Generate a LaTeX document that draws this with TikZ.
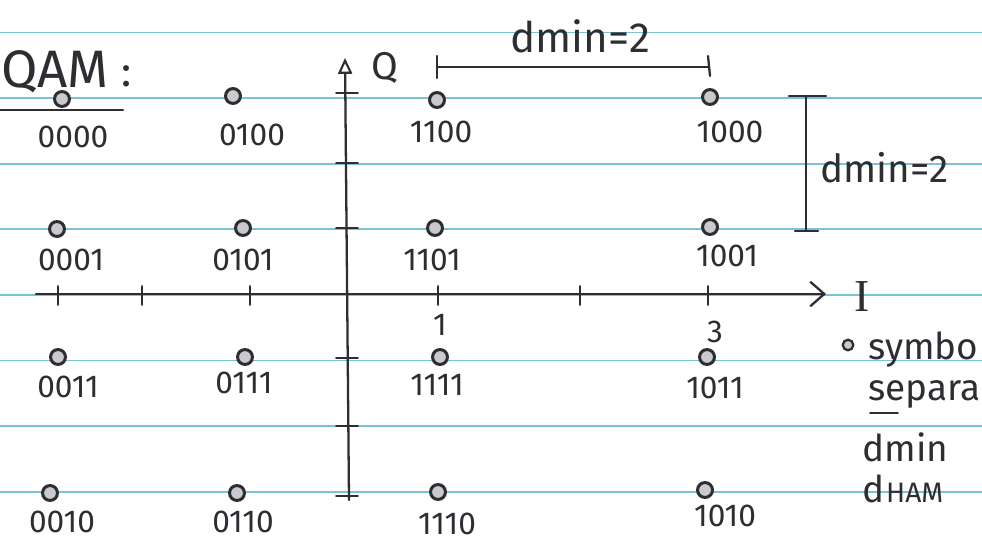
\documentclass[tikz,border=0pt]{standalone}
\usepackage{fontspec}
\setmainfont{Fira Sans}
\newfontfamily\serifI{Liberation Serif}
\usetikzlibrary{arrows.meta}
\definecolor{rule}{RGB}{120,196,214}
\definecolor{ink}{RGB}{45,45,50}
\tikzset{
  ruleline/.style={draw=rule, line width=1.1pt},
  pen/.style={draw=ink, line width=1.3pt, line cap=round},
  dot/.style={circle, draw=ink, line width=1.7pt, fill=ink!25, inner sep=0pt, minimum size=8.5pt},
  bits/.style={text=ink, font=\fontsize{18}{20}\selectfont, inner sep=0pt},
  note/.style={text=ink, font=\fontsize{21}{23}\selectfont, inner sep=0pt, anchor=west},
}
\begin{document}
\begin{tikzpicture}[x=0.02cm, y=-0.02cm]
\useasboundingbox (0,0) rectangle (982,543);
\clip (0,0) rectangle (982,543);
\fill[white] (0,0) rectangle (982,543);
% notebook rules
\foreach \yy in {32.5,98.1,163.7,229.3,294.9,360.5,426.1,491.7}
  \draw[ruleline] (0,\yy) -- (982,\yy);

% axes
\coordinate (qbot) at (349,500);
\coordinate (qtop) at (345,58);
\draw[pen, -{Triangle[open, length=9pt, width=8pt, line width=1.2pt]}] (qbot) -- (qtop);
\node[text=ink, font=\fontsize{22}{24}\selectfont, inner sep=0pt] (Q) at (385,68) {Q};
\coordinate (ileft) at (36,294);
\coordinate (iright) at (826,294);
\draw[pen, -{Straight Barb[length=8pt, width=14pt, line width=1.3pt]}] (ileft) -- (iright);
\node[text=ink, font=\serifI\fontsize{26}{28}\selectfont, inner sep=0pt] (I) at (862,297) {I};

% ticks on I axis
\foreach \xx in {58,142,250,438,580,708}
  \draw[pen, line width=1pt] (\xx,286) -- (\xx,305);
% ticks on Q axis
\foreach \yy in {93,163,228,358,426,496}
  \draw[pen, line width=1pt] (336,\yy) -- (358,\yy);
\node[bits] (one) at (440,325) {1};
\node[bits] (three) at (715,332) {3};

% constellation points
\node[dot] (p0000) at (62,99) {};
\node[dot] (p0100) at (233,96) {};
\node[dot] (p1100) at (437,100) {};
\node[dot] (p1000) at (710,97) {};
\node[dot] (p0001) at (57,229) {};
\node[dot] (p0101) at (243,228) {};
\node[dot] (p1101) at (435,228) {};
\node[dot] (p1001) at (710,227) {};
\node[dot] (p0011) at (58,357) {};
\node[dot] (p0111) at (245,357) {};
\node[dot] (p1111) at (440,357) {};
\node[dot] (p1011) at (707,357) {};
\node[dot] (p0010) at (50,493) {};
\node[dot] (p0110) at (237,493) {};
\node[dot] (p1110) at (438,492) {};
\node[dot] (p1010) at (705,490) {};

\node[bits] (l0000) at (73,137) {0000};
\node[bits] (l0100) at (252,135) {0100};
\node[bits] (l1100) at (441,132) {1100};
\node[bits] (l1000) at (730,132) {1000};
\node[bits] (l0001) at (71,260) {0001};
\node[bits] (l0101) at (243,260) {0101};
\node[bits] (l1101) at (432,260) {1101};
\node[bits] (l1001) at (727,256) {1001};
\node[bits] (l0011) at (68,387) {0011};
\node[bits] (l0111) at (244,383) {0111};
\node[bits] (l1111) at (437,385) {1111};
\node[bits] (l1011) at (715,388) {1011};
\node[bits] (l0010) at (62,522) {0010};
\node[bits] (l0110) at (243,522) {0110};
\node[bits] (l1110) at (447,524) {1110};
\node[bits] (l1010) at (725,516) {1010};

% title
\node[text=ink, font=\fontsize{30}{32}\selectfont, inner sep=0pt, anchor=west] (title) at (1,72) {QAM};
\node[text=ink, font=\fontsize{24}{26}\selectfont, inner sep=0pt] (colon) at (127,76) {:};
\coordinate (ul0) at (0,110);
\coordinate (ul1) at (123,110);
\draw[pen] (ul0) -- (ul1);

% horizontal dmin bracket
\coordinate (hb0) at (437,67);
\coordinate (hb1) at (708,67);
\draw[pen] (hb0) -- (hb1);
\draw[pen] (437,56) -- (437,78);
\draw[pen] (708,56) -- (710,76);
\node[text=ink, font=\fontsize{24}{26}\selectfont, inner sep=0pt] (dminh) at (580,36) {dmin=2};

% vertical dmin bracket
\coordinate (vb0) at (806,96);
\coordinate (vb1) at (806,231);
\draw[pen] (vb0) -- (vb1);
\draw[pen] (789,96) -- (826,96);
\draw[pen] (795,231) -- (818,231);
\node[note, font=\fontsize{22}{24}\selectfont] (dminv) at (820,168) {dmin=2};

% side notes
\node[dot, minimum size=6pt, line width=1.3pt] (bullet) at (848,345) {};
\node[note] (n1) at (868,350) {symbo};
\node[note] (n2) at (868,394) {separa};
\draw[pen, line width=1pt] (870,413) -- (898,413);
\node[note] (n3) at (862,447) {dmin};
\node[note] (n4) at (862,489) {d\kern1pt\fontsize{16}{18}\selectfont HAM};
\end{tikzpicture}
\end{document}
